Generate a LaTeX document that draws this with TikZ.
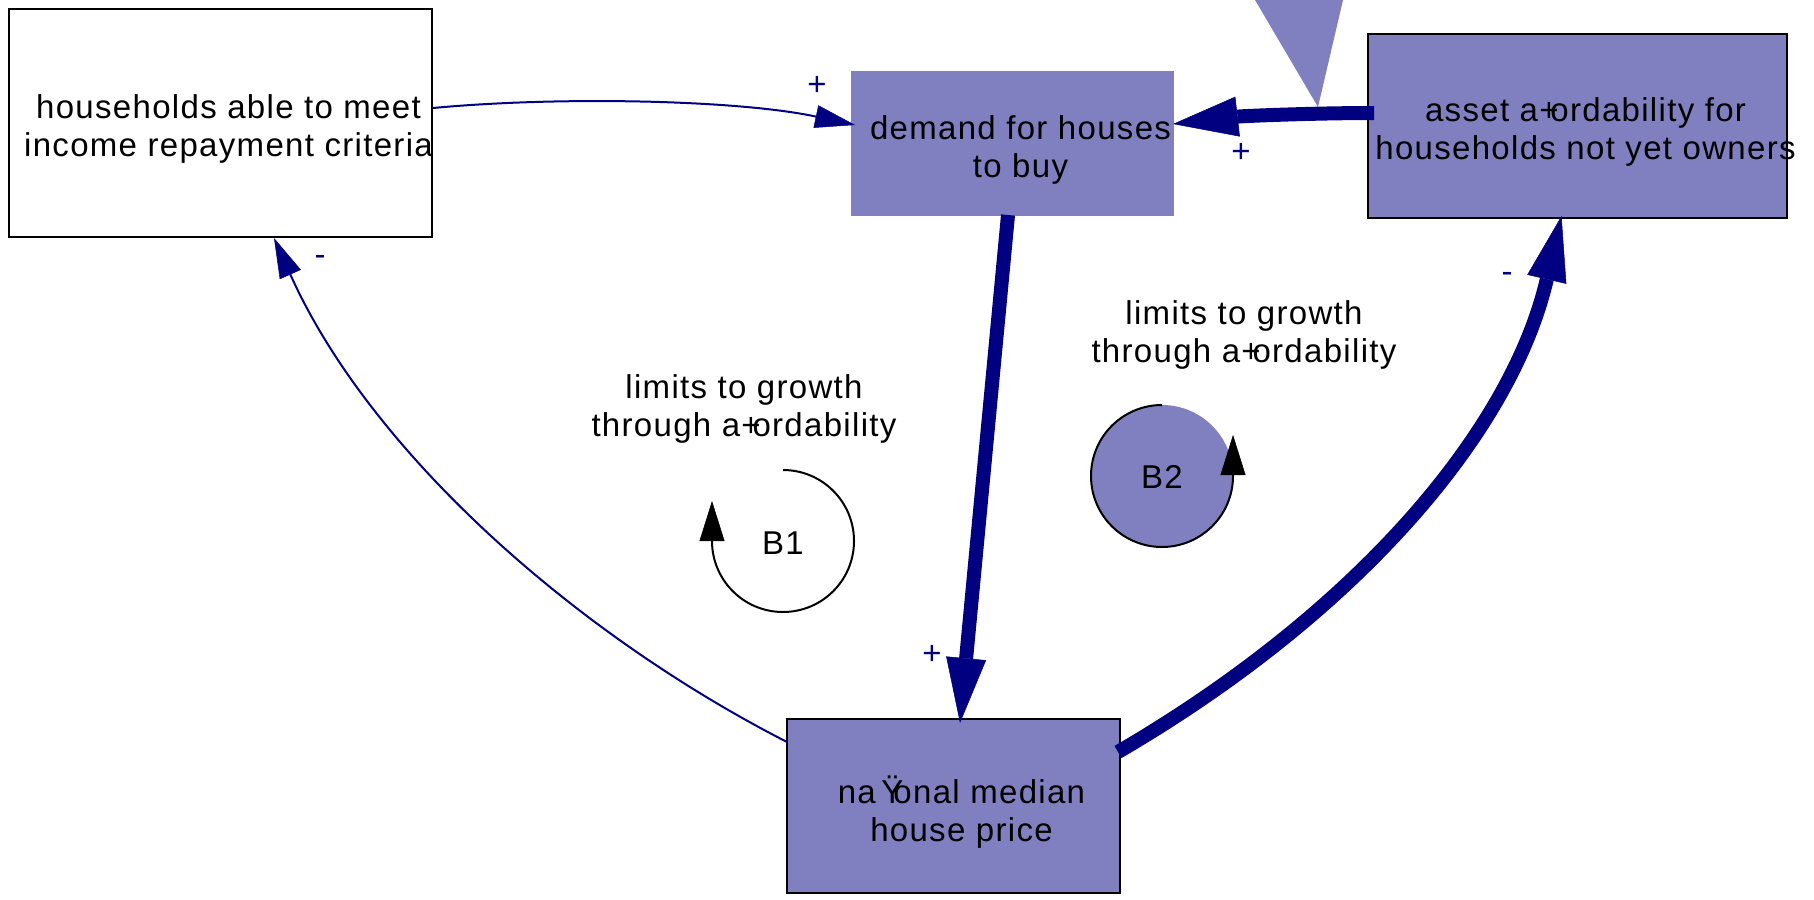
\documentclass[tikz,border=0pt]{standalone}
\usepackage{fontspec}
\newfontfamily\diagfont[LetterSpace=4]{Liberation Sans}
\usetikzlibrary{arrows.meta}
\definecolor{navy}{RGB}{0,0,128}
\definecolor{lav}{RGB}{128,128,192}

\begin{document}
\begin{tikzpicture}[
    x=1pt, y=-1pt, font=\diagfont\fontsize{33}{38}\selectfont,
    var/.style={draw=black, line width=2pt, fill=lav, inner sep=0},
    vtext/.style={align=center, inner sep=0, shift={(8,6)}},
    link/.style={navy, line width=2pt, -{Triangle[length=40pt, width=23pt, line width=0.5pt]}},
    strong/.style={navy, line width=14pt, -{Triangle[length=65pt, width=40pt, line width=0.5pt]}},
    sign/.style={text=navy, inner sep=0},
    turn/.style={black, line width=2pt, -{Triangle[length=40pt, width=25pt, line width=0.5pt]}},
  ]
  \useasboundingbox (0,0) rectangle (1814,899);

  % marker at the top edge
  \fill[lav] (1255,0) -- (1343,0) -- (1318,107) -- cycle;

  \node[var, fill=white, minimum width=423pt, minimum height=228pt,
    label={[vtext]center:households able to meet\\income repayment criteria}] (house) at (220.5,123) {};
  \node[var, draw=none, minimum width=323pt, minimum height=145pt,
    label={[vtext]center:demand for houses\\to buy}] (demand) at (1012.5,143.5) {};
  \node[var, minimum width=419pt, minimum height=184pt,
    label={[vtext]center:asset a+\kern-.25em ordability for\\households not yet owners}] (asset) at (1577.5,126) {};
  \node[var, minimum width=333pt, minimum height=174pt,
    label={[vtext]center:na\,Ÿ\kern-.3em onal median\\house price}] (price) at (953.5,806) {};

  % loops
  \fill[lav] (1162,476) circle[radius=71];
  \node (b1) at (783,543) {B1};
  \node (b2) at (1162,477) {B2};
  \draw[turn] ([shift={(0,-73)}]b1.center) arc[start angle=270, end angle=540, radius=71] -- ++(0,-40);
  \draw[turn] ([shift={(0,-72)}]b2.center) arc[start angle=270, end angle=0, radius=71] -- ++(0,-41);
  \node[align=center] (b1cap) at (744,409) {limits to growth\\through a+\kern-.25em ordability};
  \node[align=center] (b2cap) at (1244,335) {limits to growth\\through a+\kern-.25em ordability};

  % links
  \draw[link] ([shift={(0,-15)}]house.east) .. controls +(128,-12) and +(-116,-25) .. ([shift={(5,-18.5)}]demand.west);
  \draw[strong] ([shift={(7,-13)}]asset.west) .. controls +(-60,0) and +(70,-8) .. ([shift={(-2,-19.5)}]demand.east);
  \draw[strong] ([shift={(-4.5,-2)}]demand.south) -- ([shift={(6.5,5)}]price.north);
  \draw[link] ([shift={(1,-64)}]price.west) .. controls +(-215,-110) and +(95,212) .. ([shift={(53.5,0)}]house.south);
  \draw[strong] ([shift={(-3,-54)}]price.east) .. controls +(240,-140) and +(-50,215) .. ([shift={(-16,-3)}]asset.south);

  \node[sign] (s1) at (817,86) {+};
  \node[sign] (s2) at (1241,153) {+};
  \node[sign] (s3) at (932,655) {+};
  \node[sign] (s4) at (320,260) {-};
  \node[sign] (s5) at (1507,277) {-};
\end{tikzpicture}
\end{document}
